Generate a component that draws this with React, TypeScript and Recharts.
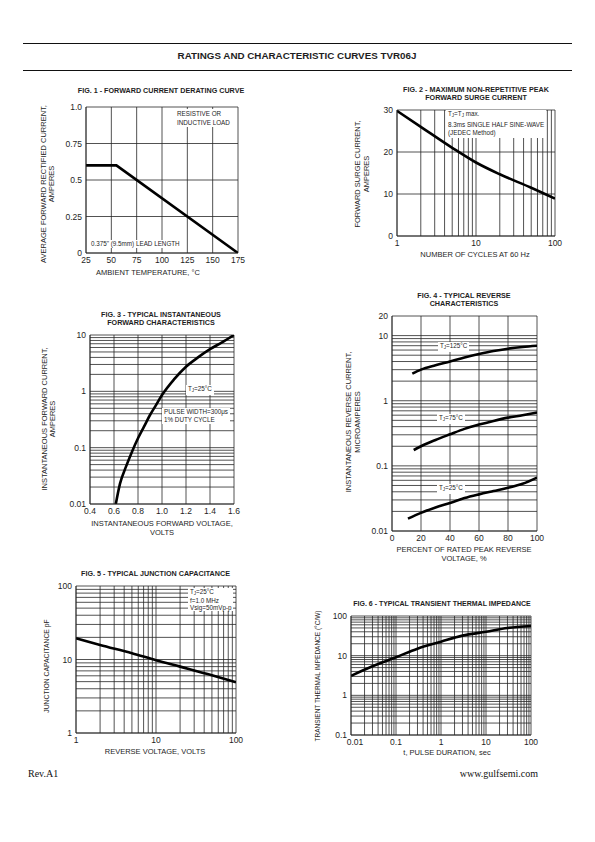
import React from 'react';
import { LineChart, Line, XAxis, YAxis, CartesianGrid } from 'recharts';

const SANS = '"Liberation Sans", Arial, Helvetica, sans-serif';
const SERIF = '"Liberation Serif", "Times New Roman", serif';
const INK = '#1e1e1e';
const GRID = '#262626';

// ---- Fig. 1 forward current derating
const fig1Temp = [25, 55, 175];
const fig1Current = [0.6, 0.6, 0];
const fig1XTicks = [25, 50, 75, 100, 125, 150, 175];
const fig1XLabels = ['25', '50', '75', '100', '125', '150', '175'];
const fig1YTicks = [0, 0.25, 0.5, 0.75, 1.0];
const fig1YLabels = ['0', '0.25', '0.5', '0.75', '1.0'];

// ---- Fig. 2 surge current vs cycles
const fig2Cycles = [1, 2, 5, 10, 20, 50, 100];
const fig2Surge = [29.8, 26.0, 21.0, 17.5, 14.7, 11.5, 8.9];
const fig2XMajor = [1, 10, 100];
const fig2XLabels = ['1', '10', '100'];
const fig2YTicks = [0, 10, 20, 30];
const fig2YLabels = ['0', '10', '20', '30'];

// ---- Fig. 3 forward characteristics
const fig3Volts = [0.615, 0.65, 0.7, 0.75, 0.8, 0.85, 0.9, 0.95, 1.0, 1.1, 1.2, 1.3, 1.4, 1.5, 1.6];
const fig3Amps = [0.01, 0.023, 0.046, 0.085, 0.147, 0.236, 0.38, 0.57, 0.86, 1.63, 2.74, 4.0, 5.6, 7.4, 10];
const fig3XTicks = [0.4, 0.6, 0.8, 1.0, 1.2, 1.4, 1.6];
const fig3XLabels = ['0.4', '0.6', '0.8', '1.0', '1.2', '1.4', '1.6'];
const fig3YMajor = [0.01, 0.1, 1, 10];
const fig3YLabels = ['0.01', '0.1', '1', '10'];

// ---- Fig. 4 reverse characteristics
const fig4Pct125 = [14, 20, 30, 40, 50, 60, 70, 80, 90, 100];
const fig4I125 = [2.6, 3.0, 3.5, 4.0, 4.6, 5.2, 5.8, 6.3, 6.7, 7.0];
const fig4Pct75 = [15, 20, 30, 40, 50, 60, 70, 80, 90, 100];
const fig4I75 = [0.175, 0.2, 0.25, 0.305, 0.37, 0.43, 0.49, 0.55, 0.6, 0.66];
const fig4Pct25 = [11, 20, 30, 40, 50, 60, 70, 80, 90, 100];
const fig4I25 = [0.0155, 0.019, 0.023, 0.027, 0.032, 0.0365, 0.041, 0.046, 0.053, 0.066];
const fig4XTicks = [0, 20, 40, 60, 80, 100];
const fig4XLabels = ['0', '20', '40', '60', '80', '100'];
const fig4YMajor = [0.01, 0.1, 1, 10, 20];
const fig4YLabels = ['0.01', '0.1', '1', '10', '20'];

// ---- Fig. 5 junction capacitance
const fig5Volts = [1, 2, 5, 10, 20, 50, 100];
const fig5Cap = [19.5, 15.8, 12.2, 9.8, 8.0, 6.1, 4.9];
const fig5Major = [1, 10, 100];
const fig5Labels = ['1', '10', '100'];

// ---- Fig. 6 transient thermal impedance
const fig6Time = [0.01, 0.03, 0.1, 0.3, 1, 3, 10, 30, 100];
const fig6Z = [3.1, 5.4, 9.1, 15, 22.5, 32, 40, 50, 56];
const fig6XMajor = [0.01, 0.1, 1, 10, 100];
const fig6XLabels = ['0.01', '0.1', '1', '10', '100'];
const fig6YMajor = [0.1, 1, 10, 100];
const fig6YLabels = ['0.1', '1', '10', '100'];

// gridline values 1..9 per decade
const logGrid = (from: number, to: number) => {
  const out: number[] = [];
  for (let d = from; d < to * 0.999; d *= 10) {
    for (let k = 1; k < 10; k++) out.push(+(d * k).toPrecision(3));
  }
  out.push(to);
  return out;
};

const labelOf = (major: number[], labels: string[]) => (v: number) => {
  const i = major.findIndex((m) => Math.abs(m - v) <= Math.abs(m) * 1e-6 + 1e-9);
  return i >= 0 ? labels[i] : '';
};

type Box = [number, number, number, number];
interface Series { x: number[]; y: number[]; curve?: 'monotone' | 'linear' }
interface PanelProps {
  box: Box;
  xLog?: boolean;
  yLog?: boolean;
  xDomain: [number, number];
  yDomain: [number, number];
  xTicks: number[];
  yTicks: number[];
  xFmt: (v: number) => string;
  yFmt: (v: number) => string;
  series: Series[];
  firstXShift?: number; // nudges the left-most x label off the y labels
}

const XH = 18, YW = 32, PAD = 6, PADR = 14;

const Panel: React.FC<PanelProps> = (p) => {
  const [x0, y0, x1, y1] = p.box;
  const w = x1 - x0, h = y1 - y0;
  const xTick = (t: any) => {
    const v = t.payload.value;
    const dx = p.firstXShift && Math.abs(v - p.xDomain[0]) < 1e-9 ? p.firstXShift : 0;
    return (
      <text x={t.x + dx} y={t.y} dy="0.71em" textAnchor="middle" fontSize={8.5} fill={INK}>{p.xFmt(v)}</text>
    );
  };
  return (
    <div style={{ position: 'absolute', left: x0 - YW, top: y0 - PAD }}>
      <LineChart width={YW + w + PADR} height={PAD + h + XH} margin={{ top: PAD, right: PADR, bottom: 0, left: 0 }}>
        <CartesianGrid stroke={GRID} strokeWidth={0.8} />
        <XAxis type="number" dataKey="x" scale={p.xLog ? 'log' : 'linear'} domain={p.xDomain} ticks={p.xTicks}
          interval={0} allowDataOverflow tickLine={false} tickSize={1} tickMargin={3} height={XH}
          axisLine={{ stroke: GRID, strokeWidth: 0.8 }} tick={xTick} />
        <YAxis type="number" scale={p.yLog ? 'log' : 'linear'} domain={p.yDomain} ticks={p.yTicks}
          interval={0} allowDataOverflow tickLine={false} tickSize={1} tickMargin={3} width={YW}
          axisLine={{ stroke: GRID, strokeWidth: 0.8 }} tickFormatter={p.yFmt} tick={{ fontSize: 8.5, fill: INK }} />
        {p.series.map((s, i) => (
          <Line key={i} data={s.x.map((x, j) => ({ x, y: s.y[j] }))} dataKey="y" type={s.curve ?? 'monotone'}
            stroke="#000" strokeWidth={2.6} dot={false} isAnimationActive={false} />
        ))}
      </LineChart>
    </div>
  );
};

const T: React.FC<{ x: number; y: number; size?: number; bold?: boolean; lh?: number; rotate?: boolean; children: React.ReactNode }> =
  ({ x, y, size = 7.5, bold, lh, rotate, children }) => (
    <div style={{
      position: 'absolute', left: x, top: y, whiteSpace: 'nowrap', textAlign: 'center',
      transform: `translate(-50%, -50%)${rotate ? ' rotate(-90deg)' : ''}`,
      fontSize: size, fontWeight: bold ? 700 : 400, lineHeight: `${lh ?? size * 1.15}px`, color: INK,
    }}>{children}</div>
  );

const Note: React.FC<{ x: number; y: number; lh?: number; pad?: number; children: React.ReactNode }> =
  ({ x, y, lh = 8, pad = 2, children }) => (
    <div style={{
      position: 'absolute', left: x, top: y, background: '#fff', whiteSpace: 'nowrap',
      fontSize: 6.3, lineHeight: `${lh}px`, color: INK, padding: `0 ${pad}px`,
    }}>{children}</div>
  );

const Sub: React.FC<{ children: React.ReactNode }> = ({ children }) => (
  <span style={{ fontSize: 4.5, verticalAlign: -1 }}>{children}</span>
);

export default function App() {
  const rule = (top: number) => (
    <div style={{ position: 'absolute', left: 23, top, width: 549, height: 0, borderTop: '1.2px solid #111' }} />
  );
  return (
    <div style={{ position: 'absolute', left: 0, top: 0, width: 595, height: 842, background: '#fff', fontFamily: SANS, overflow: 'hidden' }}>
      {rule(43)}
      {rule(70)}
      <T x={297} y={56} size={9.8} bold>RATINGS AND CHARACTERISTIC CURVES TVR06J</T>

      {/* Fig 1 */}
      <T x={161} y={91} size={7.2} bold>FIG. 1 - FORWARD CURRENT DERATING CURVE</T>
      <Panel box={[86, 106.5, 238, 252.5]} xDomain={[25, 175]} yDomain={[0, 1]}
        xTicks={fig1XTicks} yTicks={fig1YTicks}
        xFmt={labelOf(fig1XTicks, fig1XLabels)} yFmt={labelOf(fig1YTicks, fig1YLabels)}
        series={[{ x: fig1Temp, y: fig1Current, curve: 'linear' }]} />
      <Note x={175} y={109} lh={9}>RESISTIVE OR<br />INDUCTIVE LOAD</Note>
      <Note x={89} y={240}>0.375" (9.5mm) LEAD LENGTH</Note>
      <T x={48} y={184} lh={8.3} rotate>AVERAGE FORWARD RECTIFIED CURRENT,<br />AMPERES</T>
      <T x={148} y={273}>AMBIENT TEMPERATURE, °C</T>

      {/* Fig 2 */}
      <T x={476} y={94} size={7.2} bold lh={8}>FIG. 2 - MAXIMUM NON-REPETITIVE PEAK<br />FORWARD SURGE CURRENT</T>
      <Panel box={[397, 110, 555, 236]} xLog xDomain={[1, 100]} yDomain={[0, 30]}
        xTicks={logGrid(1, 100)} yTicks={fig2YTicks}
        xFmt={labelOf(fig2XMajor, fig2XLabels)} yFmt={labelOf(fig2YTicks, fig2YLabels)}
        series={[{ x: fig2Cycles, y: fig2Surge }]} />
      <Note x={446} y={110} lh={8.5} pad={2}>T<Sub>J</Sub>=T<Sub>J</Sub> max.<br />8.3ms SINGLE HALF SINE-WAVE<br />(JEDEC Method)</Note>
      <T x={361.5} y={174} lh={9} rotate>FORWARD SURGE CURRENT,<br />AMPERES</T>
      <T x={475} y={255}>NUMBER OF CYCLES AT 60 Hz</T>

      {/* Fig 3 */}
      <T x={161} y={319} size={7.2} bold lh={8}>FIG. 3 - TYPICAL INSTANTANEOUS<br />FORWARD CHARACTERISTICS</T>
      <Panel box={[90, 335, 234, 504]} yLog xDomain={[0.4, 1.6]} yDomain={[0.01, 10]}
        xTicks={fig3XTicks} yTicks={logGrid(0.01, 10)}
        xFmt={labelOf(fig3XTicks, fig3XLabels)} yFmt={labelOf(fig3YMajor, fig3YLabels)}
        series={[{ x: fig3Volts, y: fig3Amps }]} />
      <Note x={186} y={385}>T<Sub>J</Sub>=25°C</Note>
      <Note x={162} y={408}>PULSE WIDTH=300μs<br />1% DUTY CYCLE</Note>
      <T x={49} y={419} lh={8} rotate>INSTANTANEOUS FORWARD CURRENT,<br />AMPERES</T>
      <T x={162} y={528} lh={8.5}>INSTANTANEOUS FORWARD VOLTAGE,<br />VOLTS</T>

      {/* Fig 4 */}
      <T x={464} y={300} size={7.2} bold lh={8}>FIG. 4 - TYPICAL REVERSE<br />CHARACTERISTICS</T>
      <Panel box={[392, 316, 537, 531]} yLog xDomain={[0, 100]} yDomain={[0.01, 20]}
        xTicks={fig4XTicks} yTicks={[...logGrid(0.01, 10), 20]}
        xFmt={labelOf(fig4XTicks, fig4XLabels)} yFmt={labelOf(fig4YMajor, fig4YLabels)}
        series={[{ x: fig4Pct125, y: fig4I125 }, { x: fig4Pct75, y: fig4I75 }, { x: fig4Pct25, y: fig4I25 }]} />
      <Note x={438} y={342}>T<Sub>J</Sub>=125°C</Note>
      <Note x={437} y={414}>T<Sub>J</Sub>=75°C</Note>
      <Note x={437} y={484}>T<Sub>J</Sub>=25°C</Note>
      <T x={352.5} y={422} lh={9} rotate>INSTANTANEOUS REVERSE CURRENT,<br />MICROAMPERES</T>
      <T x={464} y={554} lh={9}>PERCENT OF RATED PEAK REVERSE<br />VOLTAGE, %</T>

      {/* Fig 5 */}
      <T x={155.5} y={574} size={7.2} bold>FIG. 5 - TYPICAL JUNCTION CAPACITANCE</T>
      <Panel box={[76, 586, 236, 733]} xLog yLog xDomain={[1, 100]} yDomain={[1, 100]}
        xTicks={logGrid(1, 100)} yTicks={logGrid(1, 100)}
        xFmt={labelOf(fig5Major, fig5Labels)} yFmt={labelOf(fig5Major, fig5Labels)}
        series={[{ x: fig5Volts, y: fig5Cap }]} />
      <Note x={188} y={588} lh={7}>T<Sub>J</Sub>=25°C<br />f=1.0 MHz<br />Vsig=50mVp-p</Note>
      <T x={47} y={666} size={6.8} rotate>JUNCTION CAPACITANCE pF</T>
      <T x={155} y={752}>REVERSE VOLTAGE, VOLTS</T>

      {/* Fig 6 */}
      <T x={442} y={604} size={7} bold>FIG. 6 - TYPICAL TRANSIENT THERMAL IMPEDANCE</T>
      <Panel box={[351, 616, 531, 735]} xLog yLog xDomain={[0.01, 100]} yDomain={[0.1, 100]}
        xTicks={logGrid(0.01, 100)} yTicks={logGrid(0.1, 100)} firstXShift={4}
        xFmt={labelOf(fig6XMajor, fig6XLabels)} yFmt={labelOf(fig6YMajor, fig6YLabels)}
        series={[{ x: fig6Time, y: fig6Z }]} />
      <T x={318} y={676} size={6.5} rotate>TRANSIENT THERMAL IMPEDANCE (°C/W)</T>
      <T x={447} y={753}>t, PULSE DURATION, sec</T>

      <div style={{ position: 'absolute', left: 28, top: 768, fontFamily: SERIF, fontSize: 10, color: '#111' }}>Rev.A1</div>
      <div style={{ position: 'absolute', right: 595 - 538, top: 768, fontFamily: SERIF, fontSize: 10, color: '#111' }}>www.gulfsemi.com</div>
    </div>
  );
}
